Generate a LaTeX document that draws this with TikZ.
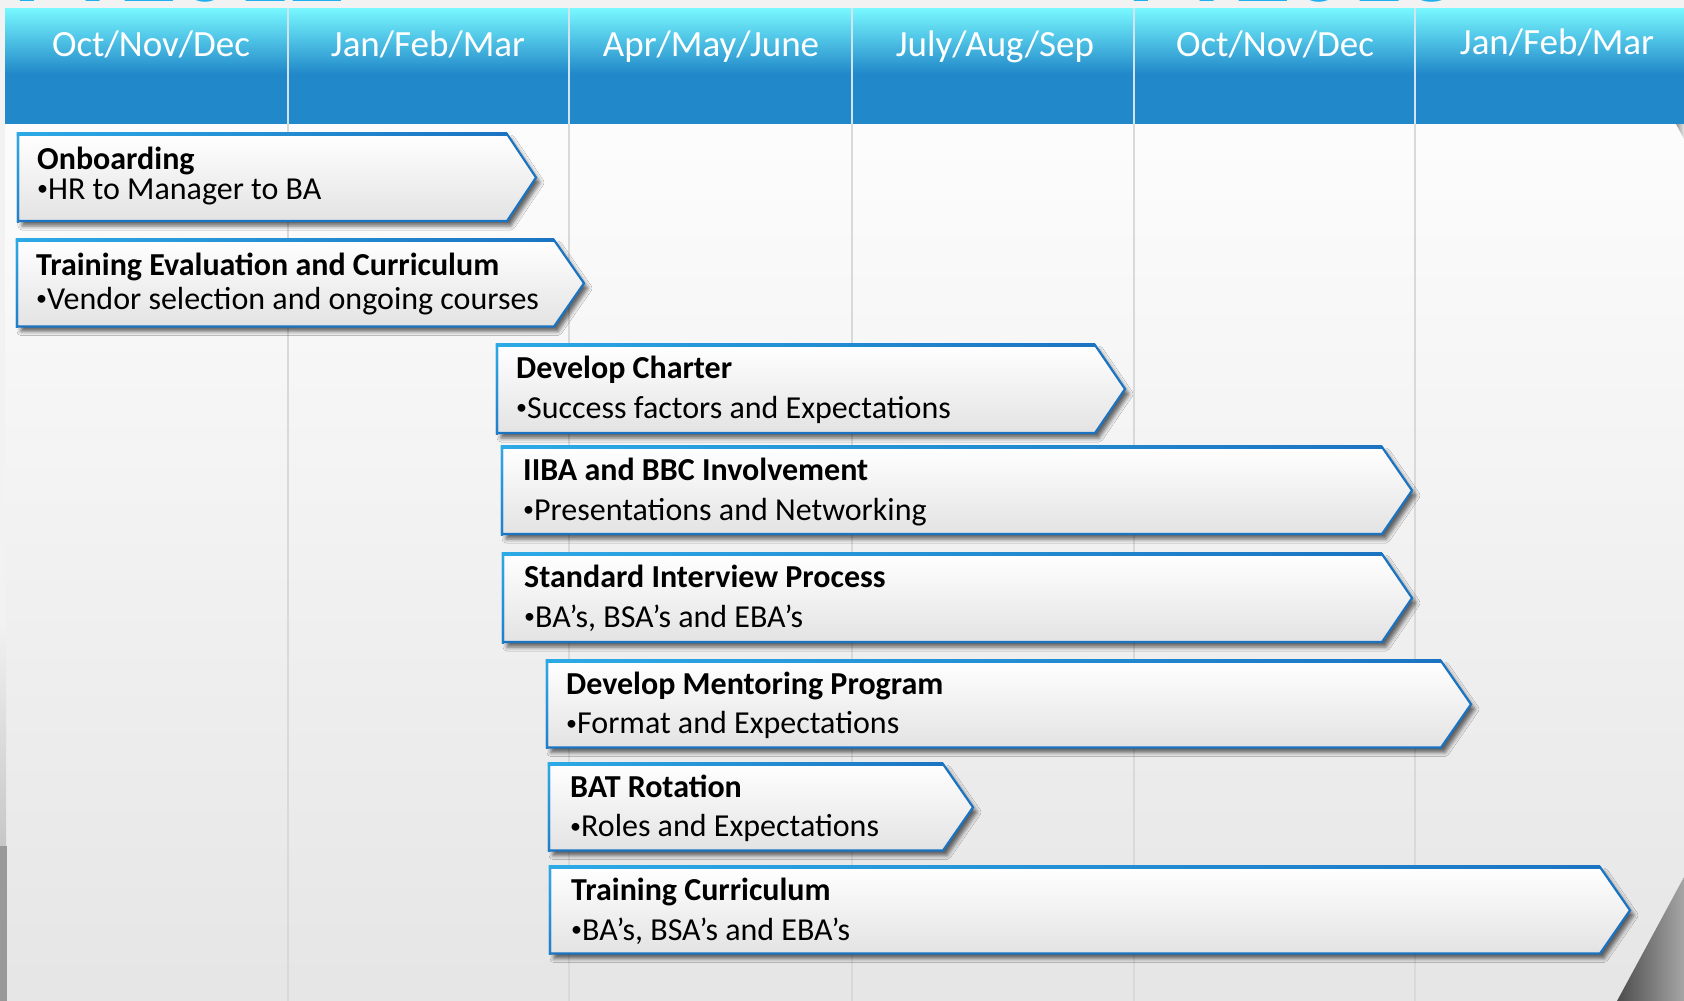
\documentclass[tikz,border=0pt]{standalone}
\usepackage{fontspec}
\setmainfont{Carlito}
\usetikzlibrary{shadows.blur}
\definecolor{hdrtop}{HTML}{78F8FF}
\definecolor{hdrblue}{HTML}{2188C9}
\definecolor{boxline}{HTML}{1B74C2}
\definecolor{boxlinelight}{HTML}{2CAAE6}
\definecolor{gridline}{HTML}{D9D9D9}
\definecolor{hdrgrid}{HTML}{D4E4EE}
\definecolor{fyblue}{HTML}{1EAEEE}
\definecolor{pagebg}{HTML}{F2F2F2}
% small list bullet
\newcommand{\itembullet}{\raisebox{0.22ex}{\fontsize{22}{22}\selectfont•}}
\begin{document}
\begin{tikzpicture}[x=1pt,y=-1pt,
  chevbox/.style={top color=white, bottom color=black!11, draw=boxline,
    line width=2.2pt, line join=miter,
    blur shadow={shadow xshift=4pt, shadow yshift=-5pt,
      shadow blur radius=4pt, shadow opacity=60}},
  quarter/.style={text=white, font=\fontsize{37}{40}\selectfont,
    anchor=base, inner sep=0pt},
  ttl/.style={font=\fontsize{32}{34}\selectfont\bfseries,
    anchor=base west, inner sep=0pt},
  itm/.style={font=\fontsize{32}{34}\selectfont,
    anchor=base west, inner sep=0pt},
  fy/.style={font=\fontsize{110}{110}\selectfont\bfseries, text=fyblue,
    anchor=base west, inner sep=0pt},
]
\clip (0,0) rectangle (1684,1001);

% page and body backgrounds
\fill[pagebg] (0,0) rectangle (1684,1001);
\shade[top color=white!99!black, bottom color=black!10]
  (5,124) rectangle (1684,1001);
\shade[top color=pagebg, bottom color=black!22] (0,620) rectangle (6,846);
\fill[black!40] (0,846) rectangle (7,1001);

% year labels running off the top edge
\node[fy] (fy1) at (14,1.5) {FY2012};
\node[fy] (fy2) at (1128,1.5) {FY2013};

% header band
\shade[top color=hdrtop, bottom color=hdrblue] (5,8) rectangle (1684,74);
\fill[hdrblue] (5,73.5) rectangle (1684,124);

% quarter separators
\foreach \x in {288,569,852,1134,1415}{
  \draw[gridline, line width=2.2pt] (\x,124) -- (\x,1001);
  \draw[hdrgrid, line width=1.8pt] (\x,8) -- (\x,124);
}

% quarter labels
\node[quarter] (q1) at (151,56) {Oct/Nov/Dec};
\node[quarter] (q2) at (428,56) {Jan/Feb/Mar};
\node[quarter] (q3) at (711,56) {Apr/May/June};
\node[quarter] (q4) at (995,56) {July/Aug/Sep};
\node[quarter] (q5) at (1275,56) {Oct/Nov/Dec};
\node[quarter] (q6) at (1557,54) {Jan/Feb/Mar};

% grey ribbon at the right edge
\shade[left color=black!70, right color=black!35]
  (1617,1001) -- (1684,877) -- (1684,1001) -- cycle;
\shade[left color=black!40, right color=black!10]
  (1676,124) -- (1684,124) -- (1684,139) -- cycle;

% chevron: left, top, body right, tip, bottom
\newcommand{\chevron}[5]{%
  \path[chevbox] (#1,#2) -- (#3,#2) -- (#4,{(#2+#5)/2}) -- (#3,#5)
    -- (#1,#5) -- cycle;
  % lighter cyan highlight along the top and left edges
  \shade[left color=boxlinelight, right color=boxline]
    ({#1-1.1},{#2-1.1}) rectangle (#3,{#2+1.1});
  \shade[top color=boxlinelight, bottom color=boxline!80!boxlinelight]
    ({#1-1.1},{#2-1.1}) rectangle ({#1+1.1},{#5+1.1});
}

\chevron{18}{134}{507}{536}{221}
\node[ttl] (onb-t) at (37,169) {Onboarding};
\node[itm] (onb-i) at (37,199) {\itembullet HR to Manager to BA};

\chevron{17}{240}{554}{584}{326.5}
\node[ttl] (tec-t) at (36,275) {Training Evaluation and Curriculum};
\node[itm] (tec-i) at (36,309) {\itembullet Vendor selection and ongoing courses};

\chevron{497}{345}{1095}{1125}{433}
\node[ttl] (chr-t) at (516,378) {Develop Charter};
\node[itm] (chr-i) at (516,418) {\itembullet Success factors and Expectations};

\chevron{502}{447}{1382}{1412}{534}
\node[ttl] (iiba-t) at (523,480) {IIBA and BBC Involvement};
\node[itm] (iiba-i) at (523,520) {\itembullet Presentations and Networking};

\chevron{503}{554}{1382}{1412}{642}
\node[ttl] (sip-t) at (524,587.5) {Standard Interview Process};
\node[itm] (sip-i) at (524,627) {\itembullet BA’s, BSA’s and EBA’s};

\chevron{547}{661}{1441}{1471}{747.5}
\node[ttl] (men-t) at (566,694) {Develop Mentoring Program};
\node[itm] (men-i) at (566,733.5) {\itembullet Format and Expectations};

\chevron{549}{764}{943}{973}{850.5}
\node[ttl] (bat-t) at (570,797) {BAT Rotation};
\node[itm] (bat-i) at (570,836.5) {\itembullet Roles and Expectations};

\chevron{550}{867}{1600}{1630}{953.5}
\node[ttl] (trc-t) at (571,900) {Training Curriculum};
\node[itm] (trc-i) at (571,940) {\itembullet BA’s, BSA’s and EBA’s};
\end{tikzpicture}
\end{document}
